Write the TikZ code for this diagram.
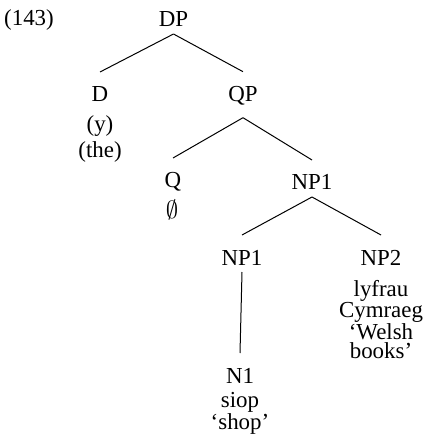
\documentclass[tikz,border=0pt]{standalone}
\usepackage{fontspec}
\setmainfont{Liberation Serif}
\begin{document}
\begin{tikzpicture}[x=1bp,y=-1bp,
  cat/.style={anchor=base,font=\fontsize{23}{27}\selectfont,
    text height=23bp,text depth=0bp,inner ysep=7bp,inner xsep=2bp,outer sep=0pt},
  word/.style={anchor=base,font=\fontsize{23}{27}\selectfont,inner sep=0pt},
  branch/.style={line width=1bp}]
\useasboundingbox (0,0) rectangle (427,444);
% example number
\node[word,anchor=base west] (num) at (4,26) {(143)};
% categories
\node[cat] (DP)  at (173.5,27) {DP};
\node[cat] (D)   at (100,102) {D};
\node[cat,text depth=9bp] (QP) at (243,101.7) {QP};
\node[cat] (Q)   at (173,188) {Q};
\node[cat] (NPa) at (312,190) {NP1};
\node[cat] (NPb) at (242,265) {NP1};
\node[cat] (NPc) at (381,265) {NP2};
\node[cat] (N)   at (240,383) {N1};
% lexical material
\node[word] (y)    at (100,131.5) {(y)};
\node[word] (the)  at (100,158) {(the)};
\node[word] (null) at (172,219) {$\emptyset$};
\node[word] (lyf)  at (381,296) {lyfrau};
\node[word] (cym)  at (381,317) {Cymraeg};
\node[word] (wel)  at (381,339) {`Welsh};
\node[word] (boo)  at (381,358) {books'};
\node[word] (siop) at (240,407) {siop};
\node[word] (shop) at (240,429) {`shop'};
% branches
\draw[branch] (DP.south) -- (D.north);
\draw[branch] (DP.south) -- (QP.north);
\draw[branch] (QP.south) -- (Q.north);
\draw[branch] (QP.south) -- (NPa.north);
\draw[branch] (NPa.south) -- (NPb.north);
\draw[branch] (NPa.south) -- (NPc.north);
\draw[branch] (NPb.south) -- (N.north);
\end{tikzpicture}
\end{document}
